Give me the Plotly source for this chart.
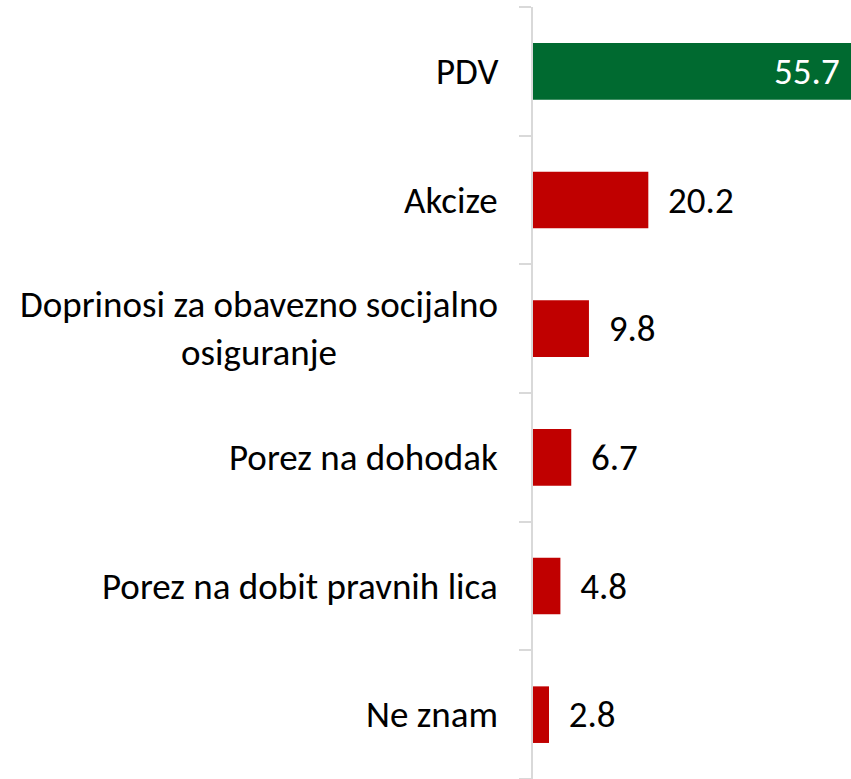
import plotly.graph_objects as go

categories = ["PDV", "Akcize", "Doprinosi za obavezno socijalno<br>osiguranje",
              "Porez na dohodak", "Porez na dobit pravnih lica", "Ne znam"]
values = [55.7, 20.2, 9.8, 6.7, 4.8, 2.8]
bar_colors = ["#006A30", "#C00000", "#C00000", "#C00000", "#C00000", "#C00000"]

FONT = "Carlito, Calibri, Lato, sans-serif"
ids = list(range(len(categories)))

text = [f"{v:.1f}" + "\u00a0" if i == 0 else "\u00a0\u00a0" + f"{v:.1f}"
        for i, v in enumerate(values)]
textpos = ["inside"] + ["outside"] * (len(values) - 1)
textcol = ["white"] + ["black"] * (len(values) - 1)

fig = go.Figure(go.Bar(
    y=ids, x=values, orientation="h",
    marker=dict(color=bar_colors, line=dict(width=0)),
    text=text, textposition=textpos, insidetextanchor="end",
    textfont=dict(family=FONT, size=37, color=textcol),
    cliponaxis=False, hoverinfo="skip",
))

annotations = []
for i, c in zip(ids, categories):
    annotations.append(dict(
        x=-0.104, xref="paper", y=i, yref="y", text=c, showarrow=False,
        xanchor="right", yanchor="middle", align="center",
        font=dict(family=FONT, size=37, color="black"),
    ))

fig.update_layout(
    width=851, height=779,
    margin=dict(l=533, r=0, t=7, b=0),
    paper_bgcolor="white", plot_bgcolor="white",
    bargap=0.56, showlegend=False,
    xaxis=dict(range=[0, max(values)], visible=False, fixedrange=True),
    yaxis=dict(
        type="linear", range=[len(categories) - 0.5, -0.5], fixedrange=True,
        tickvals=[i - 0.5 for i in ids] + [len(categories) - 0.5],
        showticklabels=False, ticks="outside", ticklen=12, tickwidth=2,
        tickcolor="#D9D9D9", showline=True, linecolor="#D9D9D9", linewidth=2,
        showgrid=False, zeroline=False,
    ),
    annotations=annotations,
    font=dict(family=FONT),
)

fig.write_html("out.html", config={"displayModeBar": False},
               post_script="document.body.style.margin='0';document.body.style.overflow='hidden';")
